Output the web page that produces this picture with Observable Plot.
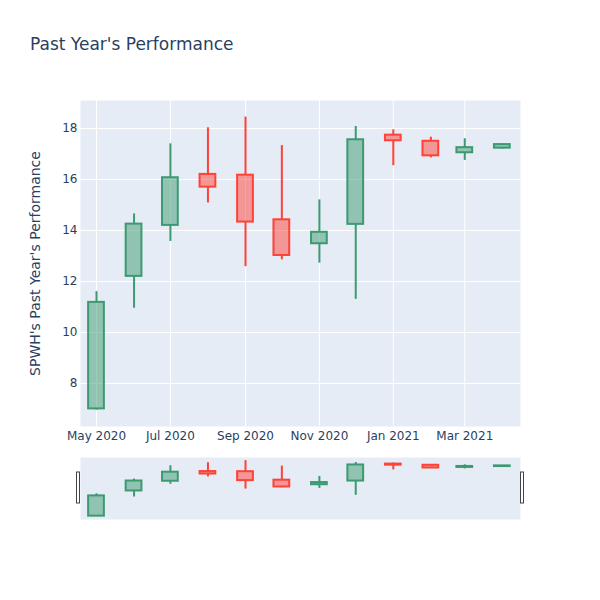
<!DOCTYPE html>
<html>
<head>
<meta charset="utf-8">
<script src="https://cdn.jsdelivr.net/npm/d3@7"></script>
<script src="https://cdn.jsdelivr.net/npm/@observablehq/plot@0.6"></script>
<style>
  html, body { margin: 0; padding: 0; background: #fff; }
  #wrap { position: relative; width: 600px; height: 600px; font-family: "DejaVu Sans", sans-serif; color: #2a3f5f; }
  #title { position: absolute; left: 30px; top: 36px; font-size: 17px; line-height: 17px; white-space: nowrap; }
  #main { position: absolute; left: 0; top: 0; }
  #slider { position: absolute; left: 0; top: 457px; }
</style>
</head>
<body>
<div id="wrap">
  <div id="main"></div>
  <div id="slider"></div>
  <div id="title">Past Year's Performance</div>
</div>
<script>
const dates = ["2020-05-01","2020-06-01","2020-07-01","2020-08-01","2020-09-01","2020-10-01","2020-11-01","2020-12-01","2021-01-01","2021-02-01","2021-03-01","2021-04-01"];
const open  = [7.00, 12.20, 14.20, 16.20, 16.17, 14.42, 13.48, 14.24, 17.74, 17.50, 17.05, 17.23];
const high  = [11.60, 14.65, 17.40, 18.03, 18.45, 17.33, 15.20, 18.08, 17.95, 17.66, 17.60, 17.38];
const low   = [6.95, 10.95, 13.57, 15.08, 12.58, 12.85, 12.72, 11.30, 16.54, 16.85, 16.75, 17.19];
const close = [11.18, 14.25, 16.07, 15.70, 14.33, 13.02, 13.93, 17.56, 17.52, 16.93, 17.25, 17.37];
const yTicks = [8, 10, 12, 14, 16, 18];
const yLabel = "SPWH's Past Year's Performance";

const data = dates.map((d, i) => ({
  date: new Date(d + "T00:00:00Z"),
  open: open[i], high: high[i], low: low[i], close: close[i],
  dir: close[i] >= open[i] ? "up" : "down"
}));

const xDomain = [new Date("2020-04-17T19:00:00Z"), new Date("2021-04-16T00:00:00Z")];
const yDomain = [6.31, 19.1];
const colorScale = {domain: ["up", "down"], range: ["#3D9970", "#FF4136"]};
const halfWidth = d => [d3.utcHour.offset(d.date, -156), d3.utcHour.offset(d.date, 156)];

function candleMarks(sw) {
  return [
    Plot.ruleX(data, {x: "date", y1: "low", y2: d => Math.min(d.open, d.close), stroke: "dir", strokeWidth: sw}),
    Plot.ruleX(data, {x: "date", y1: d => Math.max(d.open, d.close), y2: "high", stroke: "dir", strokeWidth: sw}),
    Plot.rectY(data, {
      x1: d => halfWidth(d)[0], x2: d => halfWidth(d)[1],
      y1: "open", y2: "close",
      fill: "dir", fillOpacity: 0.5, stroke: "dir", strokeWidth: 2
    })
  ];
}

const main = Plot.plot({
  width: 600, height: 450,
  marginTop: 100, marginLeft: 80, marginRight: 80, marginBottom: 24,
  style: {fontFamily: "DejaVu Sans, sans-serif", fontSize: "12px", color: "#2a3f5f", background: "transparent", overflow: "visible"},
  x: {type: "utc", domain: xDomain},
  y: {domain: yDomain},
  color: colorScale,
  marks: [
    Plot.frame({fill: "#E5ECF6", stroke: null}),
    Plot.gridY({ticks: yTicks, stroke: "white", strokeOpacity: 1, strokeWidth: 1}),
    Plot.gridX({ticks: d3.utcMonth.every(2), stroke: "white", strokeOpacity: 1, strokeWidth: 1}),
    Plot.axisX({ticks: d3.utcMonth.every(2), tickFormat: d3.utcFormat("%b %Y"), tickSize: 0, tickPadding: 5, label: null, fill: "#2a3f5f"}),
    Plot.axisY({ticks: yTicks, tickSize: 0, tickPadding: 3, label: null, fill: "#2a3f5f"}),
    Plot.text([yLabel], {text: d => d, frameAnchor: "left", textAnchor: "middle", lineAnchor: "middle", rotate: -90, dx: -45, fontSize: 14, fill: "#2a3f5f"}),
    ...candleMarks(2)
  ]
});
document.getElementById("main").appendChild(main);

const slider = Plot.plot({
  width: 600, height: 62,
  marginTop: 0, marginLeft: 80, marginRight: 80, marginBottom: 0,
  style: {background: "transparent", overflow: "visible"},
  x: {type: "utc", domain: xDomain, axis: null},
  y: {domain: yDomain, axis: null},
  color: colorScale,
  marks: [
    Plot.frame({fill: "#E5ECF6", stroke: null}),
    ...candleMarks(2),
    (index, scales, values, dimensions) => {
      const g = d3.create("svg:g");
      const sx = scales.x;
      const top = dimensions.marginTop + (dimensions.height - dimensions.marginTop - dimensions.marginBottom) / 2 - 16;
      [sx(xDomain[0]) - 2, sx(xDomain[1]) + 2].forEach(cx => {
        g.append("rect")
          .attr("x", cx - 1.5).attr("y", top)
          .attr("width", 3).attr("height", 31)
          .attr("fill", "#fff").attr("stroke", "#444").attr("stroke-width", 1);
      });
      return g.node();
    }
  ]
});
document.getElementById("slider").appendChild(slider);
</script>
</body>
</html>
